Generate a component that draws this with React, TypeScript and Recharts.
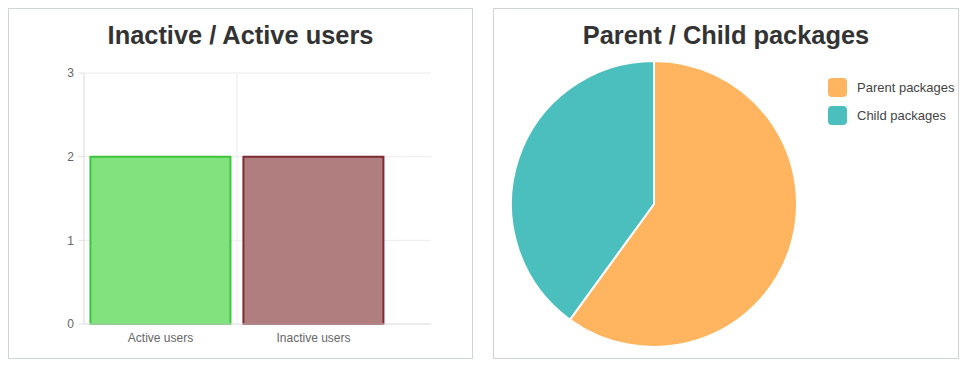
import {
  Bar,
  BarChart,
  CartesianGrid,
  Cell,
  Legend,
  Pie,
  PieChart,
  XAxis,
  YAxis,
} from "recharts"

const USER_CATEGORIES = ["Active users", "Inactive users"]
const USER_COUNTS = [2, 2]
const USER_FILLS = ["#80e37e", "#b07e7e"]
const USER_STROKES = ["#3fc43f", "#7a2b33"]
const USER_TICKS = [0, 1, 2, 3]

const PACKAGE_NAMES = ["Parent packages", "Child packages"]
const PACKAGE_COUNTS = [3, 2]
const PACKAGE_COLORS = ["#ffb45f", "#4abfbd"]

const FONT = "'Liberation Sans', Arial, Helvetica, sans-serif"
const AXIS_PAD_RIGHT = 41

const panelStyle: React.CSSProperties = {
  position: "absolute",
  top: 0,
  width: 463,
  height: 349,
  border: "1px solid #cfd4d4",
  background: "#fff",
  fontFamily: FONT,
}

const titleStyle: React.CSSProperties = {
  position: "absolute",
  top: 11,
  left: 0,
  width: "100%",
  textAlign: "center",
  fontSize: 25.4,
  lineHeight: "30px",
  fontWeight: "bold",
  color: "#333",
}

function UsersChart() {
  const data = USER_CATEGORIES.map((name, i) => ({ name, value: USER_COUNTS[i] }))

  return (
    <div style={{ ...panelStyle, left: 0 }}>
      <div style={titleStyle}>Inactive / Active users</div>
      <div style={{ position: "absolute", left: 0, top: 0 }}>
        <BarChart
          width={463}
          height={349}
          data={data}
          margin={{ top: 64, right: 41, bottom: 4, left: 45 }}
          barCategoryGap="4.2%"
        >
          <CartesianGrid
            stroke="#ececec"
            verticalCoordinatesGenerator={({ offset }: any) => {
              const band = (offset.width - AXIS_PAD_RIGHT) / USER_CATEGORIES.length
              return [offset.left, offset.left + band]
            }}
          />
          <XAxis
            dataKey="name"
            height={30}
            padding={{ left: 0, right: AXIS_PAD_RIGHT }}
            stroke="#e2e2e2"
            tickLine={false}
            tickMargin={3}
            tick={{ fontSize: 12, fill: "#666", fontFamily: FONT }}
          />
          <YAxis
            width={30}
            domain={[0, 3]}
            ticks={USER_TICKS}
            stroke="#e2e2e2"
            tickMargin={4}
            tick={{ fontSize: 12, fill: "#666", fontFamily: FONT }}
          />
          <Bar dataKey="value" strokeWidth={2} isAnimationActive={false}>
            {data.map((entry, i) => (
              <Cell key={entry.name} fill={USER_FILLS[i]} stroke={USER_STROKES[i]} />
            ))}
          </Bar>
        </BarChart>
      </div>
    </div>
  )
}

function PackageLegend({ payload }: any) {
  const items = [...(payload ?? [])].sort(
    (a: any, b: any) => PACKAGE_NAMES.indexOf(a.value) - PACKAGE_NAMES.indexOf(b.value)
  )
  return (
    <div style={{ fontFamily: FONT }}>
      {items.map((item: any) => (
        <div
          key={item.value}
          style={{ display: "flex", alignItems: "center", height: 28 }}
        >
          <span
            style={{
              display: "inline-block",
              width: 19,
              height: 19,
              borderRadius: 4,
              background: item.color,
              marginRight: 10,
            }}
          />
          <span style={{ fontSize: 13, color: "#444" }}>{item.value}</span>
        </div>
      ))}
    </div>
  )
}

function PackagesChart() {
  const data = PACKAGE_NAMES.map((name, i) => ({ name, value: PACKAGE_COUNTS[i] }))

  return (
    <div style={{ ...panelStyle, left: 485, width: 464 }}>
      <div style={titleStyle}>Parent / Child packages</div>
      <div style={{ position: "absolute", left: 0, top: 0 }}>
        <PieChart width={464} height={349} margin={{ top: 0, right: 0, bottom: 0, left: 0 }}>
          <Pie
            data={data}
            dataKey="value"
            nameKey="name"
            cx={160}
            cy={195}
            outerRadius={143}
            startAngle={90}
            endAngle={-270}
            stroke="#fff"
            strokeWidth={2}
            isAnimationActive={false}
          >
            {data.map((entry, i) => (
              <Cell key={entry.name} fill={PACKAGE_COLORS[i]} />
            ))}
          </Pie>
          <Legend
            layout="vertical"
            content={<PackageLegend />}
            wrapperStyle={{ position: "absolute", top: 64, left: 334, width: 130 }}
          />
        </PieChart>
      </div>
    </div>
  )
}

export default function App() {
  return (
    <div style={{ position: "relative", width: 951, height: 352 }}>
      <UsersChart />
      <PackagesChart />
      <div
        style={{
          position: "absolute",
          left: -8,
          top: 357,
          width: 967,
          height: 1,
          background: "#2d6a8e",
        }}
      />
      <div
        style={{
          position: "absolute",
          left: -8,
          top: 358,
          width: 967,
          height: 2,
          background: "#dbe9ef",
        }}
      />
    </div>
  )
}
